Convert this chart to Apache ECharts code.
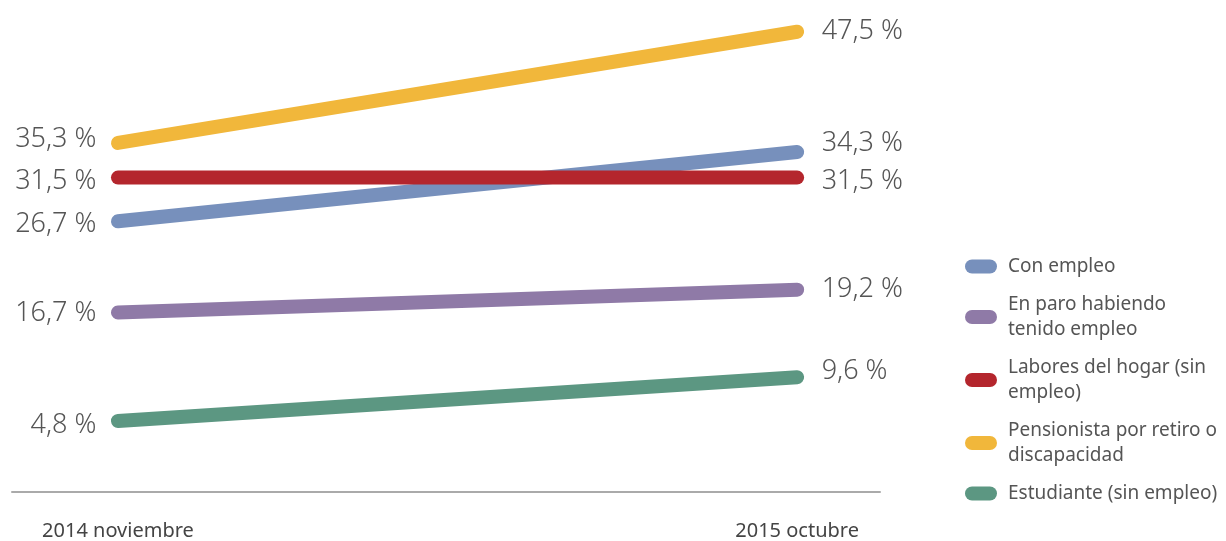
<!DOCTYPE html>
<html>
<head>
<meta charset="utf-8">
<script src="https://cdn.jsdelivr.net/npm/echarts@6/dist/echarts.min.js"></script>
<style>
  html, body { margin: 0; padding: 0; background: #fff; }
  #chart { width: 1226px; height: 541px; }
</style>
</head>
<body>
<div id="chart"></div>
<script>
const periods = ['2014 noviembre', '2015 octubre']
const seriesNames = ['Con empleo', 'En paro habiendo tenido empleo', 'Labores del hogar (sin empleo)', 'Pensionista por retiro o discapacidad', 'Estudiante (sin empleo)']
const legendText = ['Con empleo', 'En paro habiendo\ntenido empleo', 'Labores del hogar (sin\nempleo)', 'Pensionista por retiro o\ndiscapacidad', 'Estudiante (sin empleo)']
const values2014 = [26.7, 16.7, 31.5, 35.3, 4.8]
const values2015 = [34.3, 19.2, 31.5, 47.5, 9.6]
const colors = ['#7790bc', '#8f7aa7', '#b4262d', '#f1b73b', '#5c9782']

// vertical nudges for the value labels so they don't collide
const leftNudge = [3, 1, 4, -4, 4]
const rightNudge = [-9, 0, 4, 0, -6]

const textColor = '#555'
const font = "'Noto Sans', sans-serif"
const fmt = v => v.toFixed(1).replace('.', ',') + ' %'
const pill = 'path://M7,0 L25,0 A7,7 0 0 1 25,14 L7,14 A7,7 0 0 1 7,0 Z'

const chart = echarts.init(document.getElementById('chart'))

const series = seriesNames.map((name, i) => ({
  name,
  type: 'line',
  color: colors[i],
  symbol: 'circle',
  symbolSize: 1,
  lineStyle: { width: 14, cap: 'round', color: colors[i] },
  itemStyle: { color: colors[i] },
  emphasis: { disabled: true },
  z: i === 2 ? 5 : 2,
  data: [
    {
      value: [0, values2014[i]],
      label: { show: true, position: 'left', distance: 21, offset: [0, leftNudge[i]] },
    },
    {
      value: [1, values2015[i]],
      label: { show: true, position: 'right', distance: 24, offset: [0, rightNudge[i]] },
    },
  ],
  label: {
    color: textColor,
    fontSize: 27,
    fontFamily: font,
    fontWeight: 300,
    formatter: p => fmt(p.value[1]),
  },
}))

chart.setOption({
  animation: false,
  grid: { left: 12, right: 346, top: 9, bottom: 47 },
  xAxis: {
    type: 'value',
    min: -0.156,
    max: 1.122,
    axisLine: { show: true, onZero: false, lineStyle: { color: '#aaaaaa', width: 2 } },
    axisTick: { show: false },
    splitLine: { show: false },
    axisLabel: {
      customValues: [0, 1],
      formatter: v => periods[Math.round(v)],
      color: '#444',
      fontSize: 20,
      fontFamily: font,
      margin: 29,
    },
  },
  yAxis: {
    type: 'value',
    min: -3,
    max: 50,
    show: false,
    splitLine: { show: false },
  },
  legend: {
    orient: 'vertical',
    left: 965,
    top: 254,
    padding: 0,
    itemWidth: 32,
    itemHeight: 14,
    itemGap: 13,
    icon: pill,
    data: seriesNames,
    formatter: name => legendText[seriesNames.indexOf(name)],
    textStyle: { color: textColor, fontSize: 19, lineHeight: 25, fontFamily: font, padding: [0, 0, 0, 6] },
  },
  series,
})
</script>
</body>
</html>
